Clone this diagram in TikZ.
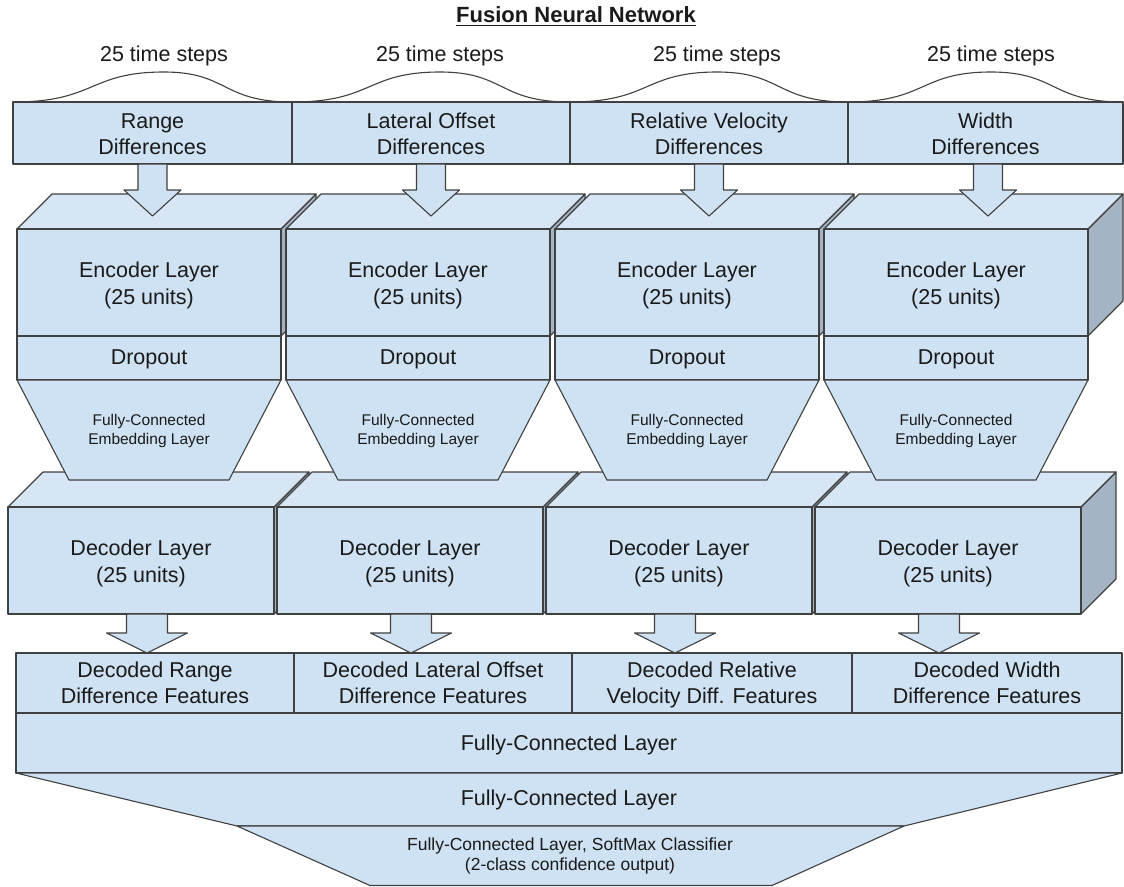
\documentclass[tikz,border=0pt]{standalone}
\usepackage{fontspec}
\setmainfont{Liberation Sans}
\definecolor{boxfill}{HTML}{CFE2F3}
\definecolor{topfill}{HTML}{D7E6F5}
\definecolor{sidefill}{HTML}{A4B4C4}
\definecolor{edge}{HTML}{404040}
\definecolor{ink}{HTML}{1A1A1A}

\begin{document}
\begin{tikzpicture}[x=1pt,y=-1pt,
  blockfill/.style={fill=boxfill,draw=edge,line width=1.1pt,line join=round},
  topface/.style={fill=topfill,draw=edge,line width=1.1pt,line join=round},
  sideface/.style={fill=sidefill,draw=edge,line width=1.1pt,line join=round},
  brace/.style={draw=edge,line width=1.1pt},
  big/.style={font=\fontsize{21.5}{26.5}\selectfont,text=ink,align=center,inner sep=0pt},
  small/.style={font=\fontsize{15.5}{18.5}\selectfont,text=ink,align=center,inner sep=0pt},
  mid/.style={font=\fontsize{17.5}{20.5}\selectfont,text=ink,align=center,inner sep=0pt},
]
\useasboundingbox (0,0) rectangle (1124,886);

% title
\node[font=\fontsize{22}{26}\selectfont\bfseries,text=ink,inner sep=0pt,anchor=base] (title) at (576,23) {Fusion Neural Network};
\draw[ink,line width=1.4pt] ([yshift=-2.5pt]title.base west) -- ([yshift=-2.5pt]title.base east);

% time-step braces over the four input streams
\foreach \a/\p/\b [count=\k] in {13/164/292, 292/440/570, 570/717/848, 848/991/1123} {
  \draw[brace] (\a,102) .. controls ({\a+0.55*(\p-\a)},102) and ({\a+0.5*(\p-\a)},72) .. (\p,72)
               .. controls ({\p+0.5*(\b-\p)},72) and ({\p+0.45*(\b-\p)},102) .. (\b,102);
  \node[big] (steps\k) at (\p,55.5) {25 time steps};
}

% input streams
\foreach \a/\b/\t [count=\k] in {13/292/{Range\strut\\Differences\strut},
                                 292/570/{Lateral Offset\strut\\Differences\strut},
                                 570/848/{Relative Velocity\strut\\Differences\strut},
                                 848/1123/{Width\strut\\Differences\strut}} {
  \filldraw[blockfill] (\a,102) rectangle (\b,164);
  \node[big] (in\k) at ({(\a+\b)/2},136.4) {\t};
}

% encoder blocks with dropout
\foreach \i in {0,...,3} {
  \pgfmathsetmacro{\L}{17+269*\i}
  \pgfmathsetmacro{\R}{\L+264}
  \filldraw[sideface] (\R,229) -- (\R+35,194) -- (\R+35,301) -- (\R,336) -- cycle;
  \filldraw[topface] (\L,229) -- (\L+35,194) -- (\R+35,194) -- (\R,229) -- cycle;
  \filldraw[blockfill] (\L,229) rectangle (\R,336);
  \filldraw[blockfill] (\L,336) rectangle (\R,380);
  \node[big] (enc\i) at ({(\L+\R)/2},285.5) {Encoder Layer\\(25 units)};
  \node[big] (drop\i) at ({(\L+\R)/2},359) {Dropout};
}

% block arrows from inputs into encoders
\foreach \c in {152.5,431,709,988} {
  \filldraw[blockfill] (\c-14.5,164) -- (\c+14.5,164) -- (\c+14.5,190) -- (\c+28.5,190)
     -- (\c,216) -- (\c-28.5,190) -- (\c-14.5,190) -- cycle;
}

% decoder blocks
\foreach \i in {0,...,3} {
  \pgfmathsetmacro{\L}{8+269*\i}
  \pgfmathsetmacro{\R}{\L+266}
  \filldraw[sideface] (\R,507) -- (\R+35,472) -- (\R+35,579) -- (\R,614) -- cycle;
  \filldraw[topface] (\L,507) -- (\L+35,472) -- (\R+35,472) -- (\R,507) -- cycle;
  \filldraw[blockfill] (\L,507) rectangle (\R,614);
  \node[big] (dec\i) at ({(\L+\R)/2},563.5) {Decoder Layer\\(25 units)};
}

% embedding funnels between encoder and decoder
\foreach \i in {0,...,3} {
  \pgfmathsetmacro{\L}{17+269*\i}
  \pgfmathsetmacro{\R}{\L+264}
  \filldraw[blockfill] (\L,380) -- (\R,380) -- (\R-52,480) -- (\L+52,480) -- cycle;
  \node[small] (emb\i) at ({(\L+\R)/2},431) {Fully-Connected\\Embedding Layer};
}

% block arrows from decoders to decoded features
\foreach \i in {0,...,3} {
  \pgfmathsetmacro{\c}{147+264*\i}
  \filldraw[blockfill] (\c-20.5,614) -- (\c+20.5,614) -- (\c+20.5,633) -- (\c+40.5,633)
     -- (\c,653) -- (\c-40.5,633) -- (\c-20.5,633) -- cycle;
}

% decoded feature row
\foreach \a/\b/\t [count=\k] in {16/294/{Decoded Range\strut\\Difference Features\strut},
                                 294/572/{Decoded Lateral Offset\strut\\Difference Features\strut},
                                 572/852/{Decoded Relative\strut\\Velocity Diff. Features\strut},
                                 852/1122/{Decoded Width\strut\\Difference Features\strut}} {
  \filldraw[blockfill] (\a,653) rectangle (\b,713);
  \node[big] (out\k) at ({(\a+\b)/2},685.4) {\t};
}

% fusion head
\filldraw[blockfill] (16,713) rectangle (1122,773);
\node[big] (fc1) at (569,745) {Fully-Connected Layer};
\filldraw[blockfill] (16,773) -- (1122,773) -- (904,826) -- (237,826) -- cycle;
\node[big] (fc2) at (569,800) {Fully-Connected Layer};
\filldraw[blockfill] (237,826) -- (904,826) -- (772,885.5) -- (370,885.5) -- cycle;
\node[mid] (fc3) at (570,856) {Fully-Connected Layer, SoftMax Classifier\\(2-class confidence output)};
\end{tikzpicture}
\end{document}
